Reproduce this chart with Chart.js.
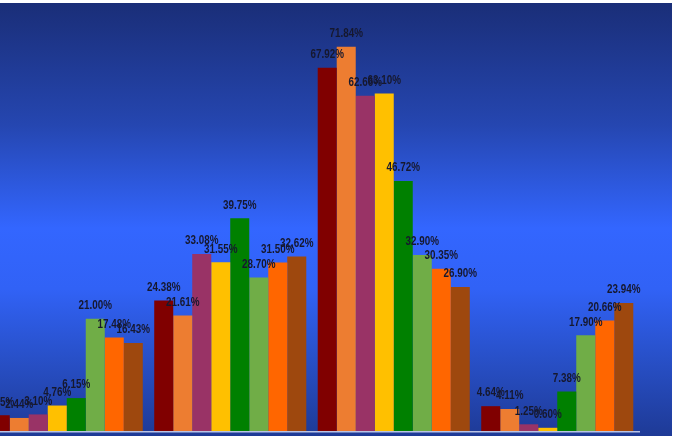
<!DOCTYPE html>
<html>
<head>
<meta charset="utf-8">
<script src="https://cdn.jsdelivr.net/npm/chart.js@4"></script>
<style>
  html, body { margin: 0; padding: 0; background: #ffffff; overflow: hidden; }
  #bg { position: absolute; left: 0; top: 3px; width: 672px; height: 433px; overflow: hidden;
        background: linear-gradient(to bottom, #1a2e78 0%, #2546b0 28%, #3366ff 52%, #3162f6 66%, #2850c8 82%, #1e3a96 100%); }
  #wrap { position: absolute; left: -15px; top: 0; width: 688px; height: 433px; }
</style>
</head>
<body>
<div id="bg"><div id="wrap"><canvas id="c" width="688" height="433"></canvas></div></div>
<script>
const categories = ["Group 1", "Group 2", "Group 3", "Group 4"];
const series1 = [2.95, 24.38, 67.92, 4.64];
const series2 = [2.44, 21.61, 71.84, 4.11];
const series3 = [3.10, 33.08, 62.66, 1.25];
const series4 = [4.76, 31.55, 63.10, 0.60];
const series5 = [6.15, 39.75, 46.72, 7.38];
const series6 = [21.00, 28.70, 32.90, 17.90];
const series7 = [17.48, 31.50, 30.35, 20.66];
const series8 = [16.43, 32.62, 26.90, 23.94];
const seriesNames = ["Series 1", "Series 2", "Series 3", "Series 4", "Series 5", "Series 6", "Series 7", "Series 8"];
const seriesColors = ["#800000", "#ed7d31", "#993366", "#ffc000", "#008000", "#70ad47", "#ff6600", "#9e480e"];
const allSeries = [series1, series2, series3, series4, series5, series6, series7, series8];

const valueLabels = {
  id: 'valueLabels',
  afterDatasetsDraw(chart) {
    const ctx = chart.ctx;
    ctx.save();
    ctx.font = "bold 12px 'Liberation Sans', Arial, sans-serif";
    ctx.fillStyle = '#16182e';
    ctx.textAlign = 'center';
    ctx.textBaseline = 'middle';
    const sx = 0.82;
    chart.data.datasets.forEach((ds, i) => {
      const meta = chart.getDatasetMeta(i);
      meta.data.forEach((bar, j) => {
        ctx.save();
        ctx.translate(bar.x, bar.y - 13);
        ctx.scale(sx, 1);
        ctx.fillText(ds.data[j].toFixed(2) + '%', 0, 0);
        ctx.restore();
      });
    });
    // baseline axis line
    const a = chart.chartArea;
    ctx.strokeStyle = '#b9c3e6';
    ctx.lineWidth = 1.5;
    ctx.beginPath();
    ctx.moveTo(0, a.bottom + 0.75);
    ctx.lineTo(a.right + 1, a.bottom + 0.75);
    ctx.stroke();
    ctx.restore();
  }
};

new Chart(document.getElementById('c'), {
  type: 'bar',
  data: {
    labels: categories,
    datasets: allSeries.map((d, i) => ({
      label: seriesNames[i],
      data: d,
      backgroundColor: seriesColors[i],
      borderWidth: 0,
      categoryPercentage: 0.93,
      barPercentage: 1.0
    }))
  },
  options: {
    responsive: false,
    animation: false,
    layout: { padding: { left: 0, right: 34, top: 0, bottom: 5 } },
    plugins: { legend: { display: false }, tooltip: { enabled: false } },
    scales: {
      x: { display: false },
      y: { display: false, min: 0, max: 80 }
    }
  },
  plugins: [valueLabels]
});
</script>
</body>
</html>
